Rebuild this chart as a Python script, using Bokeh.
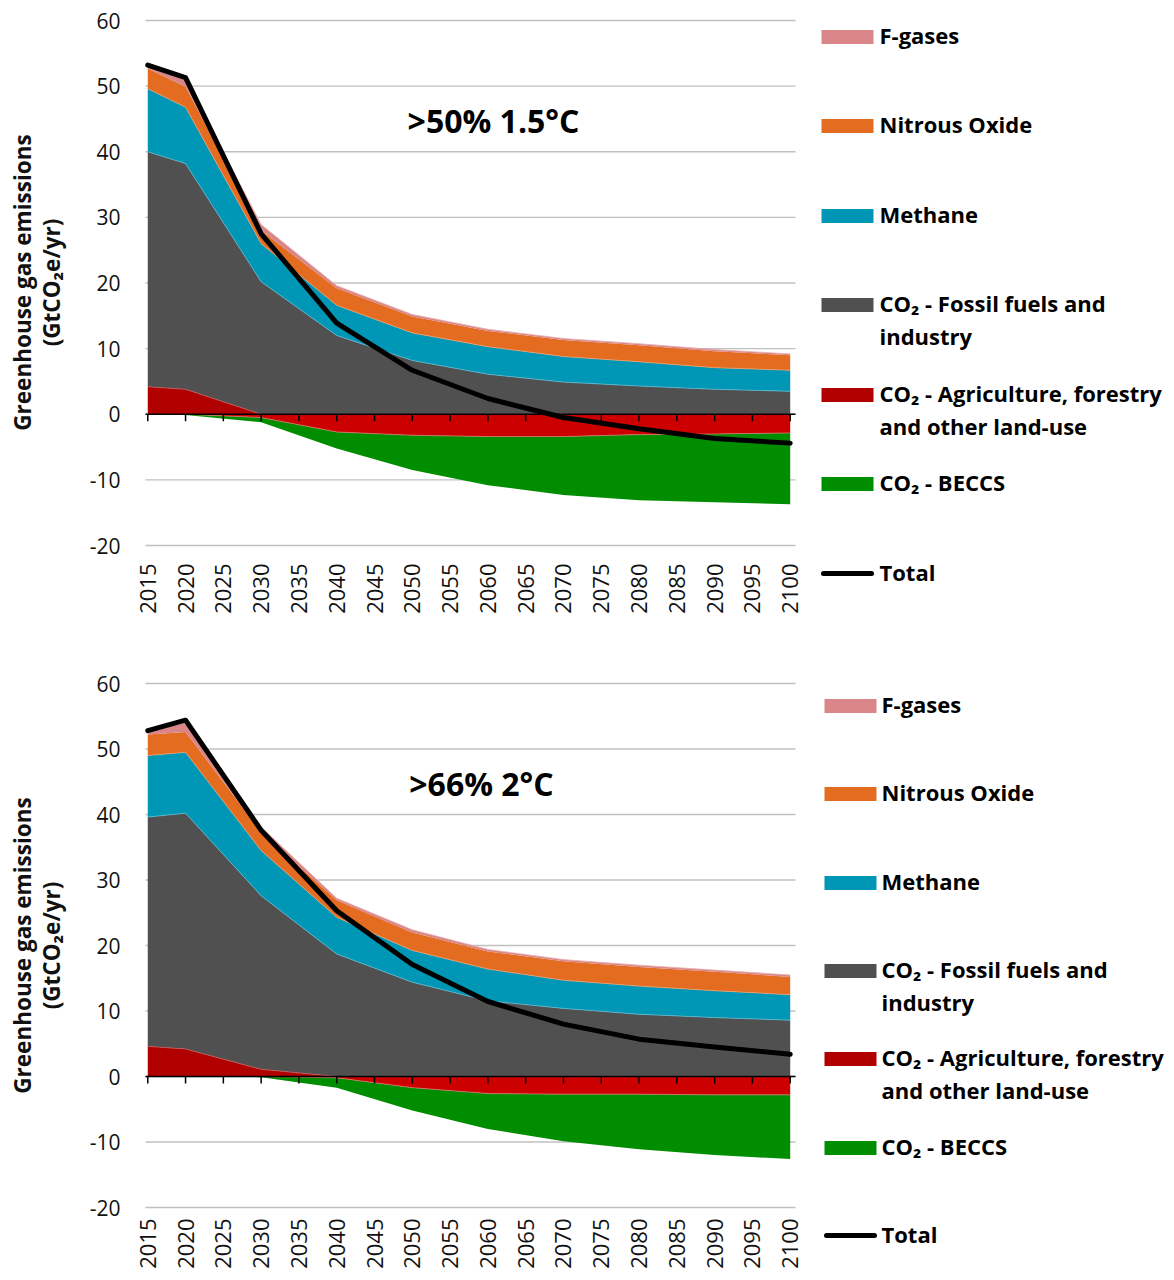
import numpy as np
from bokeh.plotting import figure
from bokeh.models import Range1d
from bokeh.layouts import column
from bokeh.embed import file_html
from bokeh.resources import INLINE
from bokeh.core.properties import value

# ---------------- data ----------------
years = [2015, 2020, 2030, 2040, 2050, 2060, 2070, 2080, 2090, 2100]
year_ticks = [2015, 2020, 2025, 2030, 2035, 2040, 2045, 2050, 2055, 2060,
              2065, 2070, 2075, 2080, 2085, 2090, 2095, 2100]
y_ticks = [-20, -10, 0, 10, 20, 30, 40, 50, 60]

# Panel 1: >50% 1.5°C
p1_fgas    = [0.8, 1.1, 0.9, 0.4, 0.3, 0.25, 0.25, 0.25, 0.25, 0.2]
p1_n2o     = [3.1, 3.1, 2.0, 2.6, 2.5, 2.4, 2.5, 2.5, 2.5, 2.3]
p1_methane = [9.6, 8.6, 5.8, 4.6, 4.2, 4.2, 3.9, 3.7, 3.3, 3.2]
p1_fossil  = [35.8, 34.4, 20.2, 12.0, 8.2, 6.1, 4.9, 4.3, 3.8, 3.5]
p1_afolu   = [4.2, 3.8, -0.5, -2.7, -3.2, -3.4, -3.4, -3.1, -3.0, -2.85]
p1_beccs   = [0.0, -0.1, -0.7, -2.5, -5.3, -7.4, -8.9, -10.0, -10.4, -10.85]
p1_total   = [53.2, 51.3, 27.5, 13.9, 6.7, 2.4, -0.5, -2.2, -3.7, -4.4]

# Panel 2: >66% 2°C
p2_fgas    = [0.5, 1.4, 0.8, 0.3, 0.4, 0.3, 0.25, 0.3, 0.25, 0.3]
p2_n2o     = [3.2, 3.1, 2.8, 2.6, 2.75, 2.7, 2.9, 2.9, 2.9, 2.7]
p2_methane = [9.4, 9.3, 6.9, 5.6, 4.85, 4.85, 4.3, 4.3, 4.1, 3.9]
p2_fossil  = [35.0, 36.0, 26.5, 18.7, 14.4, 11.55, 10.4, 9.5, 9.0, 8.6]
p2_afolu   = [4.6, 4.2, 1.1, -0.2, -1.7, -2.6, -2.7, -2.7, -2.8, -2.8]
p2_beccs   = [0.0, 0.0, -0.1, -1.5, -3.5, -5.4, -7.2, -8.4, -9.2, -9.8]
p2_total   = [52.8, 54.4, 37.6, 25.3, 17.1, 11.45, 8.0, 5.7, 4.5, 3.4]

legend_labels = [["F-gases"], ["Nitrous Oxide"], ["Methane"],
                 ["CO₂ - Fossil fuels and", "industry"],
                 ["CO₂ - Agriculture, forestry", "and other land-use"],
                 ["CO₂ - BECCS"], ["Total"]]
axis_title = ["Greenhouse gas emissions", "(GtCO₂e/yr)"]

C_FGAS = "#DA8587"
C_N2O = "#E36C21"
C_METH = "#0096B6"
C_FOSSIL = "#505050"
C_AFOLU = "#B00000"
C_AFOLU_NEG = "#CC0000"
C_BECCS = "#008E00"
legend_colors = [C_FGAS, C_N2O, C_METH, C_FOSSIL, C_AFOLU, C_BECCS, "black"]

FONT = value("Open Sans")
PAGE_W = 1174
PLOT_L, PLOT_R = 145, 795        # horizontal extent of the chart area (px)
X_LO, X_HI = 2014.7, 2100.7      # years at those edges
PX_PER_YR = (PLOT_R - PLOT_L) / (X_HI - X_LO)
Y_LO, Y_HI = -20, 60


def make_panel(title, fgas, n2o, methane, fossil, afolu, beccs, total,
               fig_top, fig_h, area_top, area_bot, title_xy, xlab_standoff,
               legend_y, sw_x0, text_x, title_y_center):
    x = np.array(years, dtype=float)
    af = np.array(afolu, dtype=float)
    s1 = np.maximum(af, 0)
    s2 = s1 + np.array(fossil)
    s3 = s2 + np.array(methane)
    s4 = s3 + np.array(n2o)
    s5 = s4 + np.array(fgas)
    n1 = np.minimum(af, 0)
    n2 = n1 + np.array(beccs)
    zero = np.zeros_like(x)

    ppu = (area_bot - area_top) / float(Y_HI - Y_LO)      # px per unit
    fig_bot = fig_top + fig_h
    x_start = X_LO - PLOT_L / PX_PER_YR
    x_end = X_LO + (PAGE_W - PLOT_L) / PX_PER_YR
    y_end = Y_HI + (area_top - fig_top) / ppu
    y_start = Y_LO - (fig_bot - area_bot) / ppu

    p = figure(width=PAGE_W, height=fig_h, output_backend="svg", toolbar_location=None,
               x_range=Range1d(x_start, x_end), y_range=Range1d(y_start, y_end),
               x_axis_location=None, y_axis_location=None, min_border=0)
    p.outline_line_color = None
    p.grid.visible = False
    p.background_fill_color = "white"
    p.border_fill_color = "white"
    # page-pixel coordinate system for layout text / legend
    p.extra_x_ranges = {"px": Range1d(0, PAGE_W)}
    p.extra_y_ranges = {"px": Range1d(fig_bot, fig_top)}

    n_y = len(y_ticks)
    # horizontal grid lines
    p.segment(x0=[X_LO] * n_y, x1=[X_HI] * n_y, y0=y_ticks, y1=y_ticks,
              line_color="#C0C0C0", line_width=1.3)

    # stacked areas
    p.varea(x=x, y1=zero, y2=s1, fill_color=C_AFOLU)
    p.varea(x=x, y1=s1, y2=s2, fill_color=C_FOSSIL)
    p.varea(x=x, y1=s2, y2=s3, fill_color=C_METH)
    p.varea(x=x, y1=s3, y2=s4, fill_color=C_N2O)
    p.varea(x=x, y1=s4, y2=s5, fill_color=C_FGAS)
    p.varea(x=x, y1=zero, y2=n1, fill_color=C_AFOLU_NEG)
    p.varea(x=x, y1=n1, y2=n2, fill_color=C_BECCS)
    # faint light seams between the bands
    for edge, col in ((s1, "#c85a5a"), (s2, "#5cb9cf"), (s3, "#ee9e6c"),
                      (s5, "#e9aeae"), (n1, "#e07070")):
        p.line(x=x, y=edge, line_color=col, line_width=0.8)

    # category axis along zero with downward ticks
    n_x = len(year_ticks)
    p.segment(x0=[X_LO], x1=[X_HI], y0=[0], y1=[0], line_color="black", line_width=1.5)
    p.segment(x0=year_ticks, x1=year_ticks, y0=[0] * n_x, y1=[-7 / ppu] * n_x,
              line_color="black", line_width=1.5)

    # total line
    p.line(x=x, y=np.array(total), line_color="black", line_width=5,
           line_cap="round", line_join="round")

    # y tick labels
    p.text(x=[X_LO - 25 / PX_PER_YR] * n_y, y=y_ticks, text=[str(t) for t in y_ticks],
           text_font=FONT, text_font_size="21px", text_color="#111111",
           text_align="right", text_baseline="middle")
    # x tick labels (rotated)
    p.text(x=year_ticks, y=[Y_LO - xlab_standoff / ppu] * n_x,
           text=[str(t) for t in year_ticks], angle=np.pi / 2,
           text_font=FONT, text_font_size="22px", text_color="#111111",
           text_align="right", text_baseline="middle")

    # y axis title (two lines, rotated)
    p.text(x=[22, 51], y=[title_y_center] * 2, text=axis_title, angle=np.pi / 2,
           x_range_name="px", y_range_name="px",
           text_font=FONT, text_font_style="bold", text_font_size="22.5px",
           text_color="#111111", text_align="center", text_baseline="middle")

    # chart title
    p.text(x=[title_xy[0]], y=[title_xy[1]], text=[title],
           x_range_name="px", y_range_name="px",
           text_font=FONT, text_font_style="bold", text_font_size="32px",
           text_color="black", text_align="center", text_baseline="middle")

    # legend
    for i, (lines, col) in enumerate(zip(legend_labels, legend_colors)):
        yc = legend_y[i]
        if i == len(legend_labels) - 1:
            p.line(x=[sw_x0 + 2, sw_x0 + 50], y=[yc, yc], line_color="black",
                   line_width=5, line_cap="round",
                   x_range_name="px", y_range_name="px")
        else:
            p.quad(left=[sw_x0], right=[sw_x0 + 52], top=[yc - 6.5], bottom=[yc + 7.5],
                   fill_color=col, line_color=None,
                   x_range_name="px", y_range_name="px")
        p.text(x=[text_x] * len(lines), y=[yc - 1.5 + 33 * k for k in range(len(lines))],
               text=lines, x_range_name="px", y_range_name="px",
               text_font=FONT, text_font_style="bold", text_font_size="22px",
               text_color="black", text_align="left", text_baseline="middle")
    return p


p1 = make_panel(">50% 1.5°C", p1_fgas, p1_n2o, p1_methane, p1_fossil, p1_afolu,
                p1_beccs, p1_total, 0, 640, 20, 545, (493, 120), 18,
                [36, 125, 215, 304, 394, 483, 573], 821, 879, 282)
p2 = make_panel(">66% 2°C", p2_fgas, p2_n2o, p2_methane, p2_fossil, p2_afolu,
                p2_beccs, p2_total, 640, 638, 683, 1207, (481, 783), 11,
                [705, 793, 882, 970, 1058, 1147, 1235], 824, 881, 945)

layout = column(p1, p2)

open("out.html", "w").write(file_html(layout, INLINE))
